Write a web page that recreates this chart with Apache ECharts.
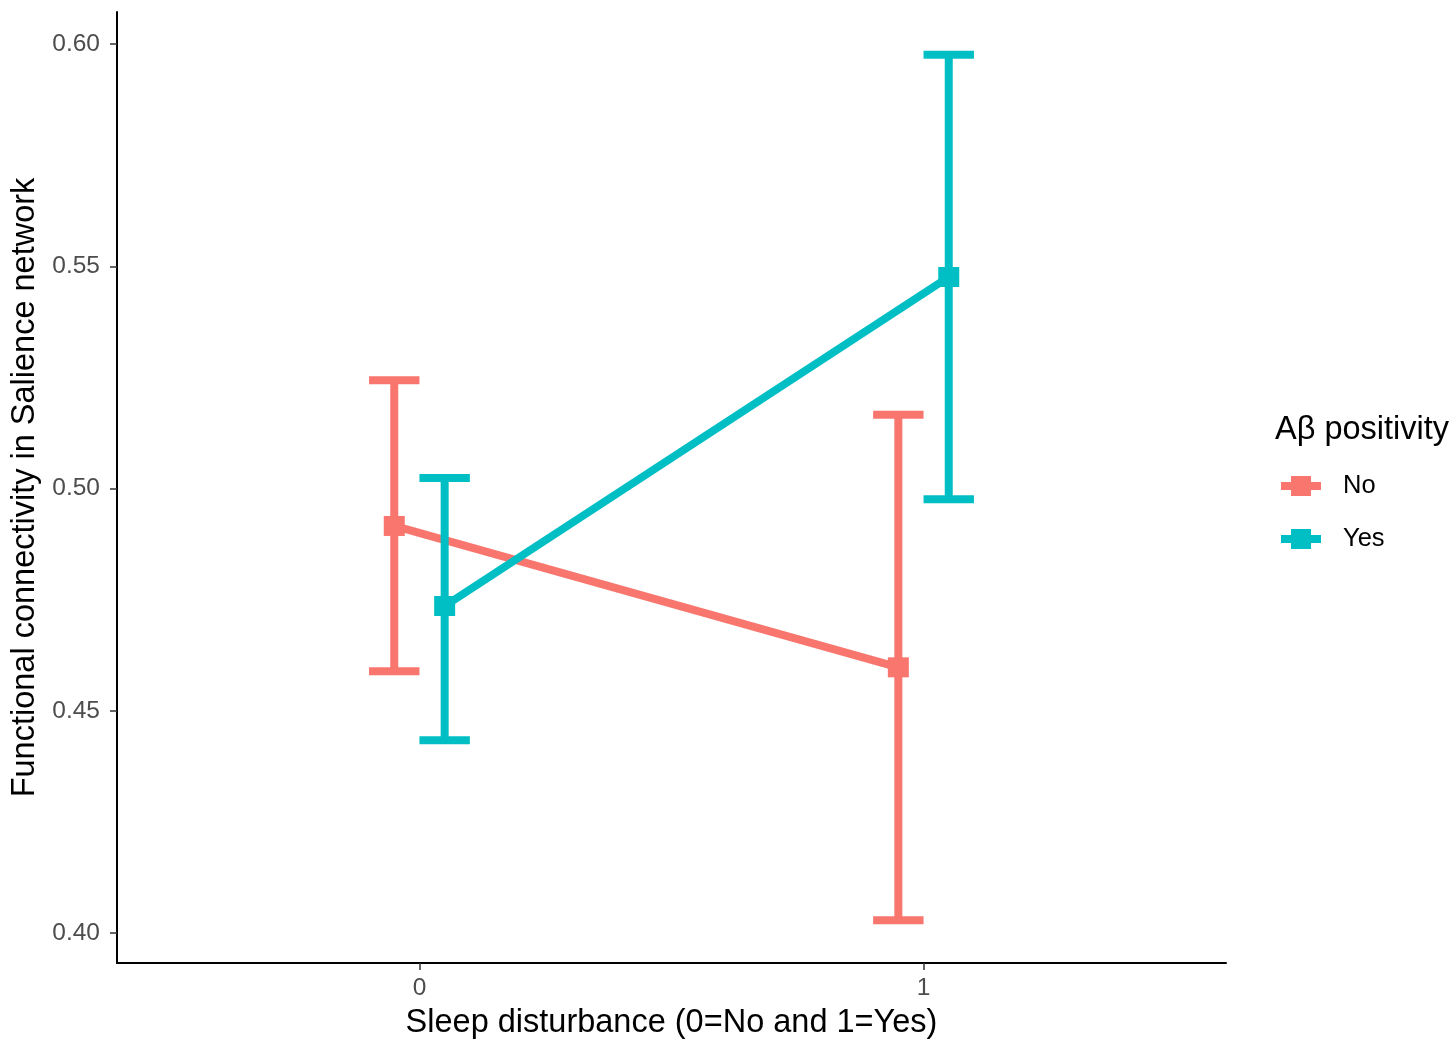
<!DOCTYPE html>
<html>
<head>
<meta charset="utf-8">
<script src="https://cdn.jsdelivr.net/npm/echarts@6/dist/echarts.min.js"></script>
<style>
html,body{margin:0;padding:0;background:#fff;}
#chart{width:1454px;height:1041px;}
</style>
</head>
<body>
<div id="chart"></div>
<script>
// ---- data ----
const categories = [0, 1];
const groupNames = ['No', 'Yes'];
const meanNo = [0.4916, 0.4598];
const lowNo = [0.4589, 0.4029];
const highNo = [0.5244, 0.5166];
const meanYes = [0.4736, 0.5476];
const lowYes = [0.4434, 0.4976];
const highYes = [0.5024, 0.5976];
const yTicks = [0.40, 0.45, 0.50, 0.55, 0.60];
const xTicks = [0, 1];

// ---- style ----
const colors = ['#F8766D', '#00BFC4'];
const dodge = [-0.05, 0.05];
const capHalf = 0.05;
const FONT = '"Liberation Sans", Arial, Helvetica, sans-serif';

const groups = [
  { name: groupNames[0], mean: meanNo, low: lowNo, high: highNo },
  { name: groupNames[1], mean: meanYes, low: lowYes, high: highYes }
];

const series = [];
groups.forEach((g, gi) => {
  series.push({
    name: g.name,
    type: 'line',
    data: categories.map((c, i) => [c + dodge[gi], g.mean[i]]),
    symbol: 'rect',
    symbolSize: [21, 20],
    showSymbol: true,
    lineStyle: { color: colors[gi], width: 8 },
    itemStyle: { color: colors[gi] },
    z: 2 + gi,
    animation: false,
    silent: true
  });
});
groups.forEach((g, gi) => {
  series.push({
    name: g.name + ' err',
    type: 'custom',
    data: categories.map((c, i) => [c + dodge[gi], g.low[i], g.high[i]]),
    renderItem: function (params, api) {
      const x = api.value(0), lo = api.value(1), hi = api.value(2);
      const pLo = api.coord([x, lo]);
      const pHi = api.coord([x, hi]);
      const half = api.size([capHalf, 0])[0];
      const st = { stroke: colors[gi], lineWidth: 8, lineCap: 'butt' };
      return {
        type: 'group',
        children: [
          { type: 'line', shape: { x1: pLo[0], y1: pLo[1], x2: pHi[0], y2: pHi[1] }, style: st },
          { type: 'line', shape: { x1: pLo[0] - half, y1: pLo[1], x2: pLo[0] + half, y2: pLo[1] }, style: st },
          { type: 'line', shape: { x1: pHi[0] - half, y1: pHi[1], x2: pHi[0] + half, y2: pHi[1] }, style: st }
        ]
      };
    },
    z: 4 + gi,
    animation: false,
    silent: true
  });
});

const chart = echarts.init(document.getElementById('chart'));
chart.setOption({
  backgroundColor: '#ffffff',
  animation: false,
  title: {
    text: 'A\u03B2 positivity',
    left: 1275,
    top: 414,
    padding: 0,
    textStyle: { fontFamily: FONT, fontSize: 32.5, fontWeight: 'normal', color: '#000' }
  },
  legend: {
    orient: 'vertical',
    left: 1281,
    top: 473,
    itemWidth: 40,
    itemHeight: 20,
    itemGap: 27,
    padding: 0,
    data: groupNames.map((n, i) => ({
      name: n,
      icon: 'path://M0,6H10V0H30V6H40V14H30V20H10V14H0Z',
      itemStyle: { color: colors[i] }
    })),
    textStyle: { fontFamily: FONT, fontSize: 25.5, color: '#000', padding: [0, 0, 0, 17] },
    selectedMode: false
  },
  grid: { left: 117, top: 12, right: 228, bottom: 78, containLabel: false, outerBoundsMode: 'none' },
  xAxis: {
    type: 'value',
    min: -0.6,
    max: 1.6,
    name: 'Sleep disturbance (0=No and 1=Yes)',
    nameLocation: 'middle',
    nameGap: 44,
    nameTextStyle: { fontFamily: FONT, fontSize: 32.5, color: '#000' },
    axisLine: { show: true, onZero: false, lineStyle: { color: '#000', width: 2 } },
    axisTick: { show: true, length: 7, customValues: xTicks, lineStyle: { color: '#333', width: 1.5 } },
    axisLabel: { customValues: xTicks, margin: 13, fontFamily: FONT, fontSize: 24.5, color: '#4D4D4D' },
    splitLine: { show: false }
  },
  yAxis: {
    type: 'value',
    min: 0.3933,
    max: 0.6072,
    name: 'Functional connectivity in Salience network',
    nameLocation: 'middle',
    nameGap: 75,
    nameRotate: 90,
    nameTextStyle: { fontFamily: FONT, fontSize: 32.5, color: '#000' },
    axisLine: { show: true, onZero: false, lineStyle: { color: '#000', width: 2 } },
    axisTick: { show: true, length: 7, customValues: yTicks, lineStyle: { color: '#333', width: 1.5 } },
    axisLabel: {
      customValues: yTicks, margin: 17, fontFamily: FONT, fontSize: 24.5, color: '#4D4D4D',
      formatter: v => v.toFixed(2)
    },
    splitLine: { show: false }
  },
  series: series
});
</script>
</body>
</html>
